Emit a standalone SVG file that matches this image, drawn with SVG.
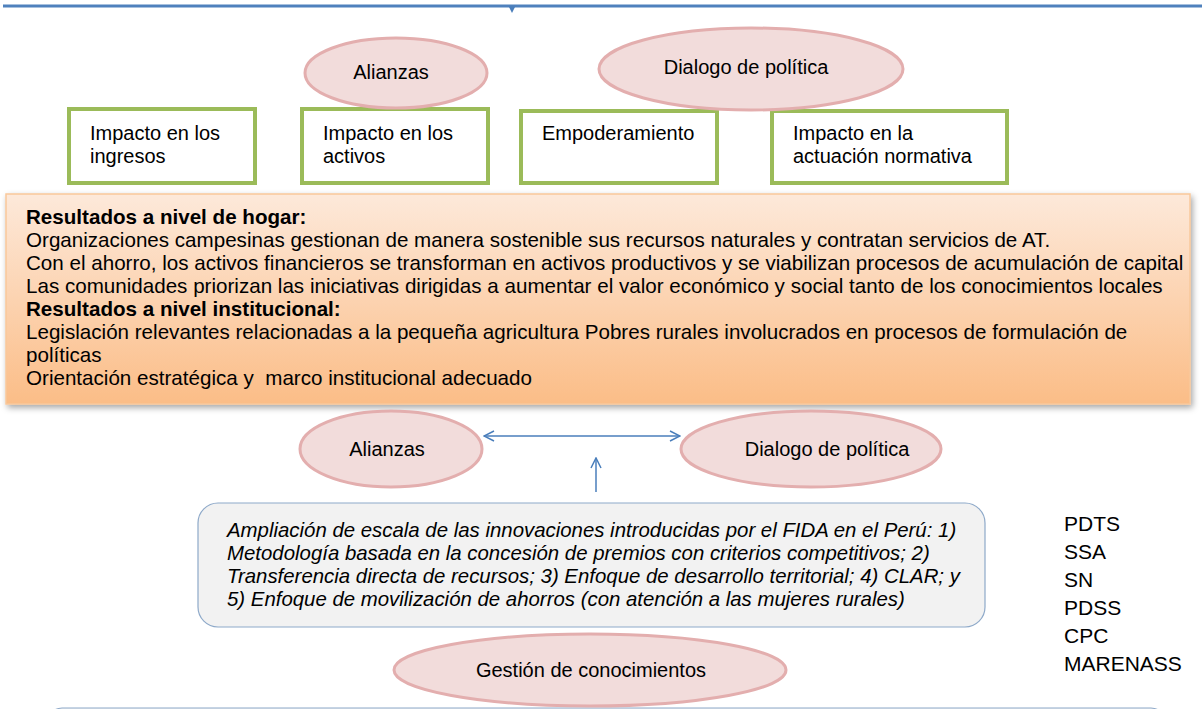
<svg xmlns="http://www.w3.org/2000/svg" width="1202" height="709" viewBox="0 0 1202 709">
<style>
text{font-family:"Liberation Sans",Arial,sans-serif;font-size:20px;fill:#000}
.o{font-size:20.6px}
.l{font-size:21px}
.ell{fill:#f2dcdb;stroke:#e3aeae;stroke-width:3}
.gbox{fill:#fff;stroke:#9bbb59;stroke-width:4}
.conn{stroke:#4a7ebb;stroke-width:1.5;fill:none}
.b{font-weight:bold}
.i{font-style:italic;font-size:20.4px}
</style>
<defs>
<linearGradient id="og" x1="0" y1="0" x2="0" y2="1">
<stop offset="0" stop-color="#fde9da"/>
<stop offset="1" stop-color="#fbbd87"/>
</linearGradient>
<filter id="sh" x="-5%" y="-10%" width="110%" height="125%">
<feDropShadow dx="2" dy="3" stdDeviation="3" flood-color="#000" flood-opacity="0.35"/>
</filter>
<marker id="ah" viewBox="0 0 12 12" refX="11" refY="6" markerWidth="12" markerHeight="12" markerUnits="userSpaceOnUse" orient="auto-start-reverse">
<path d="M1,1 L11,6 L1,11" fill="none" stroke="#4a7ebb" stroke-width="1.5"/>
</marker>
</defs>

<g id="connectors">
<line x1="3" y1="6" x2="1202" y2="6" style="stroke:#4f81bd;stroke-width:3"/>
<path d="M508.5,6 L515.5,6 L512,13 Z" fill="#4a7ebb"/>
<line class="conn" x1="484" y1="436" x2="680" y2="436" marker-start="url(#ah)" marker-end="url(#ah)"/>
<line class="conn" x1="596" y1="492" x2="596" y2="458" marker-end="url(#ah)"/>
</g>

<g id="box-ingresos">
<rect class="gbox" x="69" y="109" width="186" height="74"/>
<text x="90" y="140">Impacto en los</text>
<text x="90" y="163">ingresos</text>
</g>
<g id="box-activos">
<rect class="gbox" x="302" y="109" width="186" height="74"/>
<text x="323" y="140">Impacto en los</text>
<text x="323" y="163">activos</text>
</g>
<g id="box-empoderamiento">
<rect class="gbox" x="521" y="111" width="196" height="72"/>
<text x="542" y="140">Empoderamiento</text>
</g>
<g id="box-normativa">
<rect class="gbox" x="772" y="111" width="235" height="72"/>
<text x="793" y="140">Impacto en la</text>
<text x="793" y="163">actuación normativa</text>
</g>

<g id="ell-alianzas-top">
<ellipse class="ell" cx="396" cy="73" rx="91" ry="35"/>
<text x="391" y="79" text-anchor="middle">Alianzas</text>
</g>
<g id="ell-dialogo-top">
<ellipse class="ell" cx="751" cy="69" rx="152" ry="41"/>
<text x="746" y="74" text-anchor="middle">Dialogo de política</text>
</g>

<g id="resultados">
<rect x="6" y="194" width="1184" height="210" fill="url(#og)" stroke="#f9c89b" stroke-width="1.5" filter="url(#sh)"/>
<text class="o b" x="26" y="224">Resultados a nivel de hogar:</text>
<text class="o" x="26" y="247">Organizaciones campesinas gestionan de manera sostenible sus recursos naturales y contratan servicios de AT.</text>
<text class="o" x="26" y="270">Con el ahorro, los activos financieros se transforman en activos productivos y se viabilizan procesos de acumulación de capital</text>
<text class="o" x="26" y="293">Las comunidades priorizan las iniciativas dirigidas a aumentar el valor económico y social tanto de los conocimientos locales</text>
<text class="o b" x="26" y="316">Resultados a nivel institucional:</text>
<text class="o" x="26" y="339">Legislación relevantes relacionadas a la pequeña agricultura Pobres rurales involucrados en procesos de formulación de</text>
<text class="o" x="26" y="362">políticas</text>
<text class="o" x="26" y="385" xml:space="preserve">Orientación estratégica y  marco institucional adecuado</text>
</g>

<g id="ell-alianzas">
<ellipse class="ell" cx="391" cy="449" rx="91" ry="38"/>
<text x="387" y="456" text-anchor="middle">Alianzas</text>
</g>
<g id="ell-dialogo">
<ellipse class="ell" cx="811" cy="449" rx="130" ry="38"/>
<text x="827" y="456" text-anchor="middle">Dialogo de política</text>
</g>

<g id="innovaciones">
<rect x="198" y="503" width="787" height="124" rx="20" fill="#f2f2f2" stroke="#8ea9c9" stroke-width="1.2"/>
<text class="i" x="227" y="537">Ampliación de escala de las innovaciones introducidas por el FIDA en el Perú: 1)</text>
<text class="i" x="227" y="560">Metodología basada en la concesión de premios con criterios competitivos; 2)</text>
<text class="i" x="227" y="583">Transferencia directa de recursos; 3) Enfoque de desarrollo territorial; 4) CLAR; y</text>
<text class="i" x="227" y="606">5) Enfoque de movilización de ahorros (con atención a las mujeres rurales)</text>
</g>

<g id="proyectos">
<text class="l" x="1064" y="531">PDTS</text>
<text class="l" x="1064" y="559">SSA</text>
<text class="l" x="1064" y="587">SN</text>
<text class="l" x="1064" y="615">PDSS</text>
<text class="l" x="1064" y="643">CPC</text>
<text class="l" x="1064" y="671">MARENASS</text>
</g>

<g id="bottom-box">
<rect x="48" y="708" width="1117" height="60" rx="14" fill="#f2f2f2" stroke="#8ea9c9" stroke-width="1.2"/>
</g>

<g id="ell-gestion">
<ellipse class="ell" cx="590" cy="670" rx="196" ry="36"/>
<text x="591" y="677" text-anchor="middle">Gestión de conocimientos</text>
</g>
</svg>
